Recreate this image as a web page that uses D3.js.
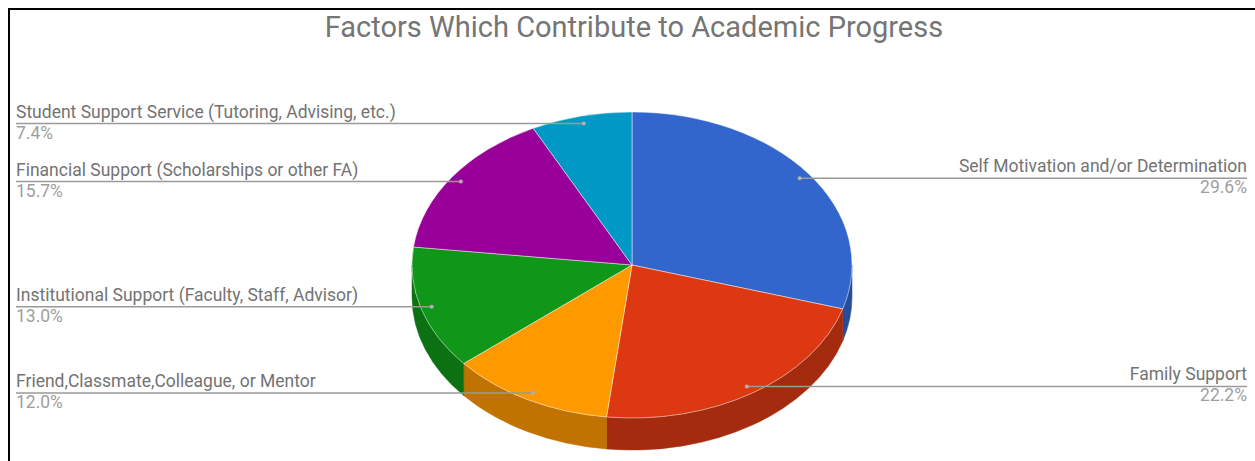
<!DOCTYPE html>
<html>
<head>
<meta charset="utf-8">
<script src="https://cdn.jsdelivr.net/npm/d3@7"></script>
<style>
  html, body { margin: 0; padding: 0; background: #fff; }
  svg { display: block; }
  text { font-family: Roboto, "Noto Sans", sans-serif; }
</style>
</head>
<body>
<svg id="chart" width="1255" height="461"></svg>
<script>
// Survey responses: share of students naming each factor
const categories = [
  "Self Motivation and/or Determination",
  "Family Support",
  "Friend,Classmate,Colleague, or Mentor",
  "Institutional Support (Faculty, Staff, Advisor)",
  "Financial Support (Scholarships or other FA)",
  "Student Support Service (Tutoring, Advising, etc.)"
];
const values = [29.6, 22.2, 12.0, 13.0, 15.7, 7.4];
const valueLabels = ["29.6%", "22.2%", "12.0%", "13.0%", "15.7%", "7.4%"];
const colors = ["#3366cc", "#dc3912", "#ff9900", "#109618", "#990099", "#0099c6"];
const title = "Factors Which Contribute to Academic Progress";

const W = 1255, H = 461;
const cx = 632, cy = 265;      // centre of the top face
const rx = 220, ry = 153;      // radii of the tilted disc
const depth = 32;              // thickness of the disc
const dotR = 0.95;             // where the leader line meets the slice

const svg = d3.select("#chart");

// frame
svg.append("path")
  .attr("d", `M9,${H} L9,9 L${W},9`)
  .attr("fill", "none")
  .attr("stroke", "#000")
  .attr("stroke-width", 2);

// title
svg.append("text")
  .attr("x", 634)
  .attr("y", 37)
  .attr("text-anchor", "middle")
  .attr("font-size", 29)
  .attr("fill", "#757575")
  .text(title);

const pie = d3.pie().sort(null).value(d => d)
  .startAngle(0).endAngle(2 * Math.PI);
const arcs = pie(values);

// point on the ellipse for an angle measured clockwise from 12 o'clock
const ex = (a, f = 1) => cx + rx * f * Math.sin(a);
const ey = (a, f = 1) => cy - ry * f * Math.cos(a);

// side wall: only the front half (pi/2 .. 3pi/2) is visible
const sideG = svg.append("g");
arcs.forEach((d, i) => {
  const a0 = Math.max(d.startAngle, Math.PI / 2);
  const a1 = Math.min(d.endAngle, 3 * Math.PI / 2);
  if (a1 <= a0) return;
  const large = (a1 - a0) > Math.PI ? 1 : 0;
  const p = `M${ex(a0)},${ey(a0)}` +
    ` A${rx},${ry} 0 ${large} 1 ${ex(a1)},${ey(a1)}` +
    ` L${ex(a1)},${ey(a1) + depth}` +
    ` A${rx},${ry} 0 ${large} 0 ${ex(a0)},${ey(a0) + depth} Z`;
  sideG.append("path")
    .attr("d", p)
    .attr("fill", d3.color(colors[i]).darker(0.8))
    .attr("stroke", d3.color(colors[i]).darker(0.8))
    .attr("stroke-width", 0.5);
});

// top face: circular arcs squashed into the ellipse
const arcGen = d3.arc().innerRadius(0).outerRadius(rx);
svg.append("g")
  .attr("transform", `translate(${cx},${cy}) scale(1,${ry / rx})`)
  .selectAll("path")
  .data(arcs)
  .join("path")
  .attr("d", arcGen)
  .attr("fill", (d, i) => colors[i])
  .attr("stroke", "rgba(255,255,255,0.45)")
  .attr("stroke-width", 1)
  .attr("vector-effect", "non-scaling-stroke");

// leader lines and labels
const labelG = svg.append("g");
arcs.forEach((d, i) => {
  const mid = (d.startAngle + d.endAngle) / 2;
  const px = ex(mid, dotR), py = ey(mid, dotR);
  const right = Math.sin(mid) > 0;
  const tx = right ? 1247 : 16;
  const anchor = right ? "end" : "start";

  labelG.append("line")
    .attr("x1", tx).attr("x2", px)
    .attr("y1", py).attr("y2", py)
    .attr("stroke", "#9a9a9a")
    .attr("stroke-width", 1.4);
  labelG.append("circle")
    .attr("cx", px).attr("cy", py).attr("r", 2)
    .attr("fill", "#b0b0b0");

  labelG.append("text")
    .attr("x", tx).attr("y", py - 6)
    .attr("text-anchor", anchor)
    .attr("font-size", 17.5)
    .attr("fill", "#737373")
    .text(categories[i]);
  labelG.append("text")
    .attr("x", tx).attr("y", py + 15)
    .attr("text-anchor", anchor)
    .attr("font-size", 17.5)
    .attr("fill", "#9e9e9e")
    .text(valueLabels[i]);
});
</script>
</body>
</html>
